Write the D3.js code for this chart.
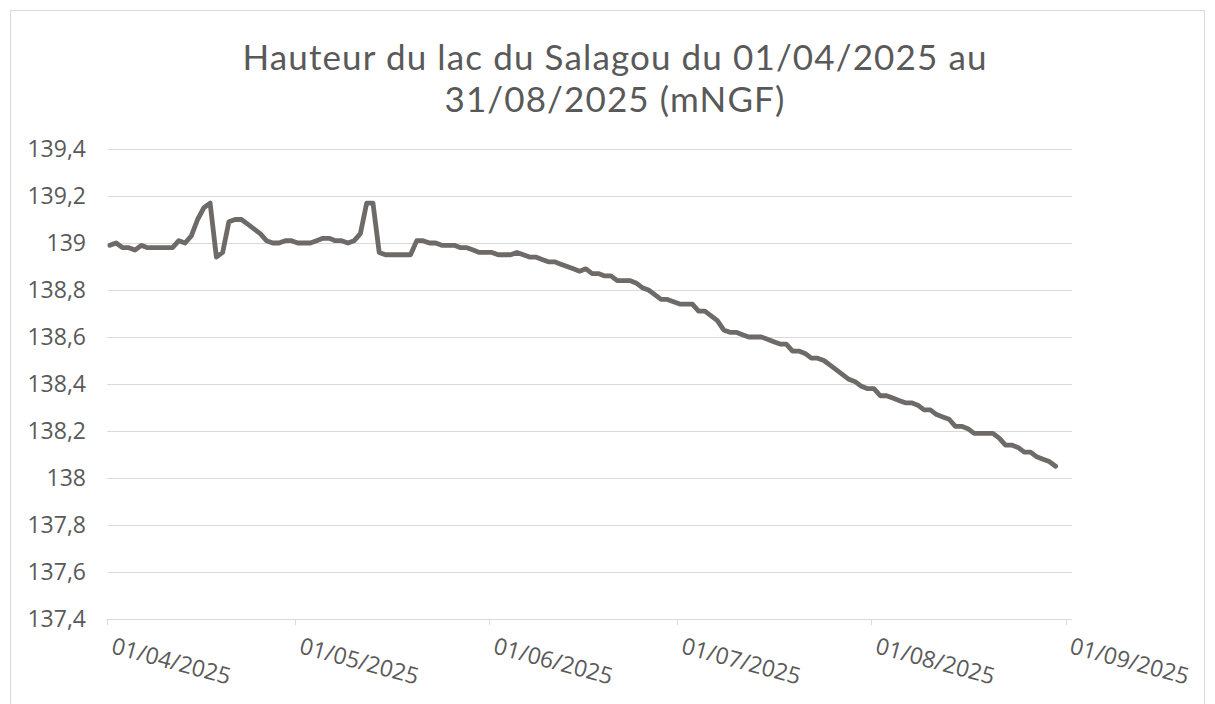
<!DOCTYPE html>
<html>
<head>
<meta charset="utf-8">
<script src="https://cdn.jsdelivr.net/npm/d3@7"></script>
<style>
  body { margin: 0; background: #fff; }
  svg { display: block; font-family: "Open Sans", sans-serif; }
</style>
</head>
<body>
<script>
// Relevés quotidiens (vers 10h) du 01/04/2025 au 30/08/2025, en mNGF
const startDate = new Date(Date.UTC(2025, 3, 1, 10));
const heights = [
  138.99, 139.00, 138.98, 138.98, 138.97, 138.99, 138.98, 138.98, 138.98, 138.98,
  138.98, 139.01, 139.00, 139.03, 139.10, 139.15, 139.17, 138.94, 138.96, 139.09,
  139.10, 139.10, 139.08, 139.06, 139.04, 139.01, 139.00, 139.00, 139.01, 139.01,
  139.00, 139.00, 139.00, 139.01, 139.02, 139.02, 139.01, 139.01, 139.00, 139.01,
  139.04, 139.17, 139.17, 138.96, 138.95, 138.95, 138.95, 138.95, 138.95, 139.01,
  139.01, 139.00, 139.00, 138.99, 138.99, 138.99, 138.98, 138.98, 138.97, 138.96,
  138.96, 138.96, 138.95, 138.95, 138.95, 138.96, 138.95, 138.94, 138.94, 138.93,
  138.92, 138.92, 138.91, 138.90, 138.89, 138.88, 138.89, 138.87, 138.87, 138.86,
  138.86, 138.84, 138.84, 138.84, 138.83, 138.81, 138.80, 138.78, 138.76, 138.76,
  138.75, 138.74, 138.74, 138.74, 138.71, 138.71, 138.69, 138.67, 138.63, 138.62,
  138.62, 138.61, 138.60, 138.60, 138.60, 138.59, 138.58, 138.57, 138.57, 138.54,
  138.54, 138.53, 138.51, 138.51, 138.50, 138.48, 138.46, 138.44, 138.42, 138.41,
  138.39, 138.38, 138.38, 138.35, 138.35, 138.34, 138.33, 138.32, 138.32, 138.31,
  138.29, 138.29, 138.27, 138.26, 138.25, 138.22, 138.22, 138.21, 138.19, 138.19,
  138.19, 138.19, 138.17, 138.14, 138.14, 138.13, 138.11, 138.11, 138.09, 138.08,
  138.07, 138.05
];
const yTicks = [137.4, 137.6, 137.8, 138, 138.2, 138.4, 138.6, 138.8, 139, 139.2, 139.4];
const xDomain = [new Date(Date.UTC(2025, 3, 1)), new Date(Date.UTC(2025, 8, 1))];
const titleLines = ['Hauteur du lac du Salagou du 01/04/2025 au', '31/08/2025 (mNGF)'];

const data = heights.map((v, i) => ({date: d3.utcDay.offset(startDate, i), value: v}));

const width = 1215, height = 704;
const plot = {left: 107.3, right: 1065.5, top: 149, bottom: 619, gridEnd: 1072};

const svg = d3.select(document.body).append('svg')
  .attr('width', width)
  .attr('height', height);

// cadre du graphique
svg.append('rect')
  .attr('x', 10.5).attr('y', 10.5)
  .attr('width', 1194).attr('height', 720)
  .attr('fill', '#fff')
  .attr('stroke', '#d9d9d9');

const x = d3.scaleUtc().domain(xDomain).range([plot.left, plot.right]);
const y = d3.scaleLinear().domain([137.4, 139.4]).range([plot.bottom, plot.top]);

const fmtY = d => d3.format('.1f')(d).replace(/\.0$/, '').replace('.', ',');
const fmtX = d3.utcFormat('%d/%m/%Y');

// grille horizontale
svg.append('g').selectAll('line')
  .data(yTicks)
  .enter().append('line')
  .attr('x1', plot.left).attr('x2', plot.gridEnd)
  .attr('y1', d => Math.round(y(d)) + 0.5)
  .attr('y2', d => Math.round(y(d)) + 0.5)
  .attr('stroke', '#d9d9d9')
  .attr('stroke-width', 1);

// graduations de l'axe des x
const months = d3.utcMonth.range(xDomain[0], d3.utcDay.offset(xDomain[1], 1));
svg.append('g').selectAll('line')
  .data(months)
  .enter().append('line')
  .attr('x1', d => Math.round(x(d)) + 0.5).attr('x2', d => Math.round(x(d)) + 0.5)
  .attr('y1', plot.bottom).attr('y2', plot.bottom + 6)
  .attr('stroke', '#d9d9d9');

// étiquettes y
svg.append('g').selectAll('text')
  .data(yTicks)
  .enter().append('text')
  .attr('x', 86)
  .attr('y', d => y(d))
  .attr('dy', '0.36em')
  .attr('text-anchor', 'end')
  .attr('fill', '#595959')
  .style('font-size', '23px')
  .text(fmtY);

// étiquettes x (inclinées)
svg.append('g').selectAll('text')
  .data(months)
  .enter().append('text')
  .attr('transform', d => `translate(${x(d) + 3},${plot.bottom + 34}) rotate(15)`)
  .attr('text-anchor', 'start')
  .attr('fill', '#595959')
  .style('font-size', '23px')
  .text(fmtX);

// courbe
const line = d3.line()
  .x(d => x(d.date))
  .y(d => y(d.value));

svg.append('path')
  .datum(data)
  .attr('d', line)
  .attr('fill', 'none')
  .attr('stroke', '#6e6a67')
  .attr('stroke-width', 4.8)
  .attr('stroke-linejoin', 'round')
  .attr('stroke-linecap', 'round');

// titre (Lato : interligne plus serré, élargi par l'espacement pour la largeur voulue)
const title = svg.append('g')
  .style('font-family', 'Lato, sans-serif')
  .style('font-size', '35px')
  .attr('fill', '#595959');

const titleText = title.selectAll('text')
  .data(titleLines)
  .enter().append('text')
  .attr('x', 615)
  .attr('y', (d, i) => 70 + i * 42)
  .attr('text-anchor', 'middle')
  .text(d => d);

const first = titleText.node();
const spacing = Math.max(0, (744 - first.getComputedTextLength()) / (titleLines[0].length - 1));
titleText.style('letter-spacing', `${spacing}px`);
</script>
</body>
</html>
